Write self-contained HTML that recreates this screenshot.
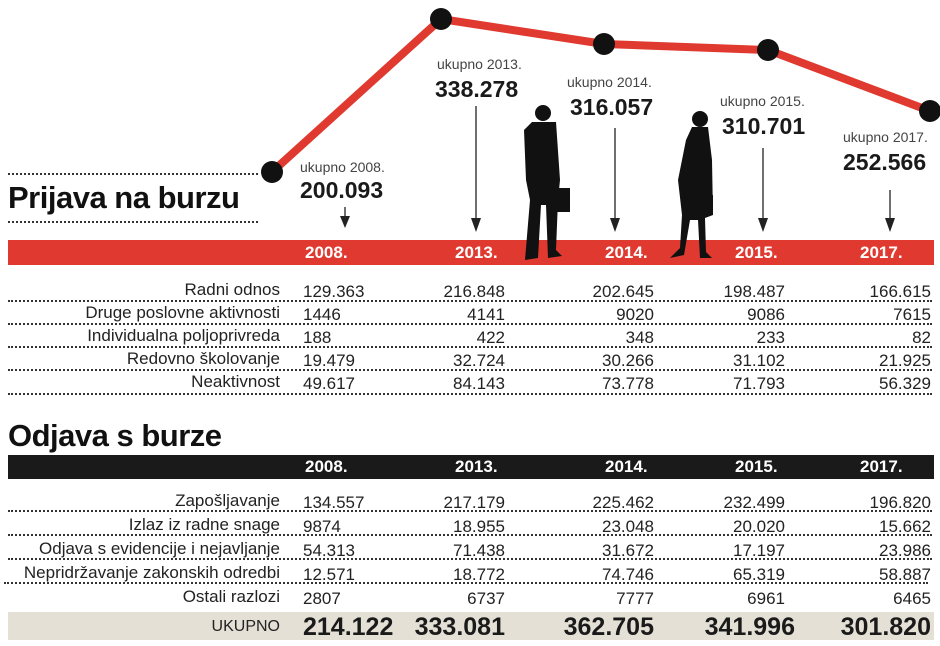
<!DOCTYPE html>
<html><head><meta charset="utf-8"><style>
body{margin:0;background:#fff;}
#p{position:relative;width:940px;height:646px;overflow:hidden;font-family:"Liberation Sans",sans-serif;color:#222;}
.a{position:absolute;white-space:nowrap;}
.lab{position:absolute;right:660px;font-size:17px;line-height:20px;white-space:nowrap;}
.v{position:absolute;font-size:17px;line-height:20px;white-space:nowrap;}
.r{text-align:right;}
.u{font-size:14px;color:#444;font-weight:300;}
.big{font-size:23px;font-weight:bold;color:#1a1a1a;}
.yr{position:absolute;font-size:17px;font-weight:bold;color:#fff;line-height:20px;}
.dot{position:absolute;left:8px;height:0;border-top:2px dotted #333;}
</style></head><body><div id="p">
<svg class="a" style="left:0;top:0" width="940" height="646">
<polyline points="272,172 441,19 604,44 768,50 930,111" fill="none" stroke="#e03a30" stroke-width="8" stroke-linejoin="round"/>
<g fill="#111"><circle cx="272" cy="172" r="11"/><circle cx="441" cy="19" r="11"/><circle cx="604" cy="44" r="11"/><circle cx="768" cy="50" r="11"/><circle cx="930" cy="111" r="11"/></g>
<rect x="8" y="240" width="926" height="25" fill="#e03a30"/>
<rect x="8" y="455" width="926" height="24" fill="#1a1a1a"/>
<rect x="8" y="612" width="926" height="28" fill="#e4e0d6"/>
<g stroke="#222" stroke-width="1.3">
<line x1="345" y1="207" x2="345" y2="222"/><line x1="476" y1="106" x2="476" y2="222"/><line x1="615" y1="128" x2="615" y2="222"/><line x1="763" y1="148" x2="763" y2="222"/><line x1="890" y1="190" x2="890" y2="222"/></g>
<g fill="#222"><path d="M340,216 L350,216 L345,228Z"/><path d="M471,218 L481,218 L476,232Z"/><path d="M610,218 L620,218 L615,232Z"/><path d="M758,218 L768,218 L763,232Z"/><path d="M885,218 L895,218 L890,232Z"/></g>
<g fill="#111">
<circle cx="543" cy="113" r="8"/>
<path d="M532,122 L556,122 L560,180 L558,200 L556,250 L562,256 L548,258 L546,205 L541,205 L538,258 L525,260 L530,200 L526,180 L524,130Z"/>
<rect x="554" y="188" width="16" height="24"/>
<circle cx="700" cy="119" r="8"/>
<path d="M692,127 L708,127 L712,160 L713,215 L705,218 L706,252 L712,258 L700,258 L698,220 L690,220 L684,255 L670,258 L680,248 L682,215 L678,180 L686,140Z"/>
<rect x="698" y="195" width="15" height="20"/>
</g>
</svg>
<div class="dot" style="top:173px;width:250px"></div>
<div class="dot" style="top:221px;width:250px"></div>
<div class="a" style="left:8px;top:180px;font-size:31px;font-weight:bold;color:#111;letter-spacing:-0.5px">Prijava na burzu</div>
<div class="a u" style="left:300px;top:159px">ukupno 2008.</div><div class="a big" style="left:300px;top:177px">200.093</div>
<div class="a u" style="left:437px;top:56px">ukupno 2013.</div><div class="a big" style="left:435px;top:76px">338.278</div>
<div class="a u" style="left:567px;top:74px">ukupno 2014.</div><div class="a big" style="left:570px;top:94px">316.057</div>
<div class="a u" style="left:720px;top:93px">ukupno 2015.</div><div class="a big" style="left:722px;top:113px">310.701</div>
<div class="a u" style="left:843px;top:129px">ukupno 2017.</div><div class="a big" style="left:843px;top:149px">252.566</div>
<div class="yr" style="left:305px;top:243px">2008.</div><div class="yr" style="left:455px;top:243px">2013.</div><div class="yr" style="left:605px;top:243px">2014.</div><div class="yr" style="left:735px;top:243px">2015.</div><div class="yr" style="left:860px;top:243px">2017.</div>
<div class="dot" style="top:300px;width:924px"></div><div class="dot" style="top:323px;width:924px"></div><div class="dot" style="top:346px;width:924px"></div><div class="dot" style="top:369px;width:924px"></div><div class="dot" style="top:393px;width:924px"></div>
<div class="lab" style="top:280px">Radni odnos</div><div class="lab" style="top:303px">Druge poslovne aktivnosti</div><div class="lab" style="top:326px">Individualna poljoprivreda</div><div class="lab" style="top:349px">Redovno školovanje</div><div class="lab" style="top:372px">Neaktivnost</div>
<div class="v" style="left:303px;top:280px;line-height:23px">129.363<br>1446<br>188<br>19.479<br>49.617</div>
<div class="v r" style="right:435px;top:280px;line-height:23px">216.848<br>4141<br>422<br>32.724<br>84.143</div>
<div class="v r" style="right:286px;top:280px;line-height:23px">202.645<br>9020<br>348<br>30.266<br>73.778</div>
<div class="v r" style="right:155px;top:280px;line-height:23px">198.487<br>9086<br>233<br>31.102<br>71.793</div>
<div class="v r" style="right:9px;top:280px;line-height:23px">166.615<br>7615<br>82<br>21.925<br>56.329</div>
<div class="a" style="left:8px;top:418px;font-size:31px;font-weight:bold;color:#111;letter-spacing:-0.5px">Odjava s burze</div>
<div class="yr" style="left:305px;top:457px">2008.</div><div class="yr" style="left:455px;top:457px">2013.</div><div class="yr" style="left:605px;top:457px">2014.</div><div class="yr" style="left:735px;top:457px">2015.</div><div class="yr" style="left:860px;top:457px">2017.</div>
<div class="dot" style="top:510px;width:924px"></div><div class="dot" style="top:534px;width:924px"></div><div class="dot" style="top:558px;width:924px"></div><div class="dot" style="top:582px;width:924px;left:4px"></div>
<div class="lab" style="top:491px">Zapošljavanje</div><div class="lab" style="top:515px">Izlaz iz radne snage</div><div class="lab" style="top:539px">Odjava s evidencije i nejavljanje</div><div class="lab" style="top:563px">Nepridržavanje zakonskih odredbi</div><div class="lab" style="top:587px">Ostali razlozi</div>
<div class="v" style="left:303px;top:491px;line-height:24px">134.557<br>9874<br>54.313<br>12.571<br>2807</div>
<div class="v r" style="right:435px;top:491px;line-height:24px">217.179<br>18.955<br>71.438<br>18.772<br>6737</div>
<div class="v r" style="right:286px;top:491px;line-height:24px">225.462<br>23.048<br>31.672<br>74.746<br>7777</div>
<div class="v r" style="right:155px;top:491px;line-height:24px">232.499<br>20.020<br>17.197<br>65.319<br>6961</div>
<div class="v r" style="right:9px;top:491px;line-height:24px">196.820<br>15.662<br>23.986<br>58.887<br>6465</div>
<div class="lab" style="top:617px;font-size:16px">UKUPNO</div>
<div class="a big" style="left:303px;top:613px;font-size:25px">214.122</div>
<div class="a big" style="right:435px;top:613px;font-size:25px">333.081</div>
<div class="a big" style="right:286px;top:613px;font-size:25px">362.705</div>
<div class="a big" style="right:145px;top:613px;font-size:25px">341.996</div>
<div class="a big" style="right:9px;top:613px;font-size:25px">301.820</div>
</div></body></html>
